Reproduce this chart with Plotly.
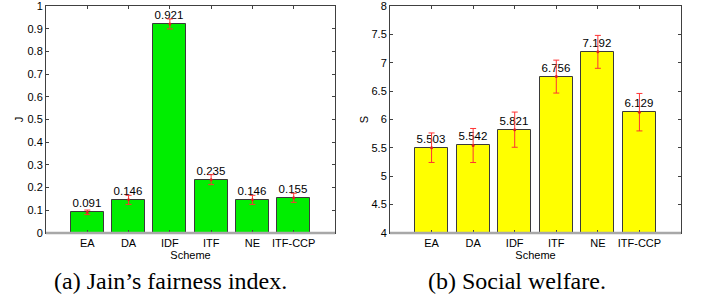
import plotly.graph_objects as go

schemes = ["EA", "DA", "IDF", "ITF", "NE", "ITF-CCP"]
jain_values = [0.091, 0.146, 0.921, 0.235, 0.146, 0.155]
jain_err = [0.010, 0.020, 0.022, 0.022, 0.020, 0.020]
welfare_values = [5.503, 5.542, 5.821, 6.756, 7.192, 6.129]
welfare_err = [0.26, 0.30, 0.31, 0.29, 0.29, 0.33]
jain_ticks = [0, 0.1, 0.2, 0.3, 0.4, 0.5, 0.6, 0.7, 0.8, 0.9, 1]
welfare_ticks = [4, 4.5, 5, 5.5, 6, 6.5, 7, 7.5, 8]
welfare_ticktext = ["4", "4.5", "5", "5.5", "6", "6.5", "7", "7.5", "8"]
positions = [1, 2, 3, 4, 5, 6]

FONT = "Liberation Sans, Arial, sans-serif"
SERIF = "Liberation Serif, Times New Roman, serif"
TITLE_FONT = dict(family=FONT, size=11, color="black")
fig = go.Figure()

def add_panel(vals, errs, color, fmt, xa, ya):
    fig.add_trace(go.Bar(
        x=positions, y=vals, width=0.8,
        marker=dict(color=color, line=dict(color="#3a3a3a", width=1)),
        error_y=dict(type="data", array=errs, color="#ff3333", thickness=1, width=3),
        text=[fmt.format(v) for v in vals], textposition="outside",
        textfont=dict(family=FONT, size=11.5, color="black"),
        cliponaxis=False, xaxis=xa, yaxis=ya, showlegend=False, hoverinfo="skip"))
    fig.add_trace(go.Scatter(
        x=positions, y=vals, mode="markers",
        marker=dict(color="#e02020", size=3),
        xaxis=xa, yaxis=ya, showlegend=False, cliponaxis=False, hoverinfo="skip"))

add_panel(jain_values, jain_err, "#00ee00", "{:.3f}", "x", "y")
add_panel(welfare_values, welfare_err, "#ffff00", "{:.3f}", "x2", "y2")

axis_common = dict(showgrid=False, zeroline=False, showline=True, linecolor="#404040",
                   linewidth=1, mirror="ticks", ticks="inside", ticklen=3,
                   automargin=False, ticklabeloverflow="allow",
                   tickcolor="#404040", tickfont=dict(family=FONT, size=11, color="black"))

fig.update_layout(
    width=702, height=297, margin=dict(l=0, r=0, t=0, b=0),
    paper_bgcolor="white", plot_bgcolor="white", bargap=0,
    xaxis=dict(domain=[46/702, 335/702], range=[0, 7], tickvals=positions, ticktext=schemes,
               anchor="y", title=dict(text="Scheme", standoff=0, font=TITLE_FONT),
               **axis_common),
    yaxis=dict(domain=[1-233/297, 1-6/297], range=[0, 1], tickvals=jain_ticks,
               ticktext=[("%g" % t) for t in jain_ticks], anchor="x",
               title=dict(text="J", standoff=1, font=TITLE_FONT), **axis_common),
    xaxis2=dict(domain=[390/702, 681/702], range=[0, 7], tickvals=positions, ticktext=schemes,
                anchor="y2", title=dict(text="Scheme", standoff=0, font=TITLE_FONT),
                **axis_common),
    yaxis2=dict(domain=[1-233/297, 1-6/297], range=[4, 8], tickvals=welfare_ticks,
                ticktext=welfare_ticktext, anchor="x2",
                title=dict(text="S", standoff=0, font=TITLE_FONT), **axis_common),
    shapes=[
        dict(type="line", xref="x domain", yref="y domain", x0=0, x1=1, y0=0, y1=0,
             line=dict(color="#a8a8a8", width=2.5)),
        dict(type="line", xref="x2 domain", yref="y2 domain", x0=0, x1=1, y0=0, y1=0,
             line=dict(color="#a8a8a8", width=2.5)),
    ],
    annotations=[
        dict(text="(a) Jain’s fairness index.", xref="paper", yref="paper", x=170/702, y=1-281/297,
             xanchor="center", yanchor="middle",
             showarrow=False, font=dict(family=SERIF, size=24, color="black")),
        dict(text="(b) Social welfare.", xref="paper", yref="paper", x=517/702, y=1-281/297,
             xanchor="center", yanchor="middle",
             showarrow=False, font=dict(family=SERIF, size=24, color="black")),
    ],
)

fig.write_html("out.html", config={"displayModeBar": False},
               post_script="document.body.style.margin='0';")
